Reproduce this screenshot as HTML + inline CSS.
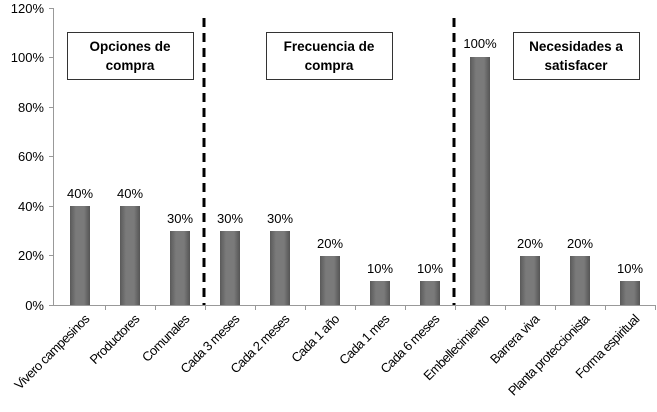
<!DOCTYPE html>
<html><head><meta charset="utf-8"><style>
body{margin:0;background:#fff;}
svg{display:block;font-family:"Liberation Sans",sans-serif;}
</style></head><body>
<svg width="657" height="412" viewBox="0 0 657 412" xmlns="http://www.w3.org/2000/svg">
<defs>
<linearGradient id="g" x1="0" x2="1" y1="0" y2="0">
<stop offset="0" stop-color="#5a5a5a"/><stop offset="0.3" stop-color="#7a7a7a"/><stop offset="0.7" stop-color="#7a7a7a"/><stop offset="1" stop-color="#555"/>
</linearGradient>
</defs>
<g stroke="#999" stroke-width="1">
<line x1="53.5" y1="8" x2="53.5" y2="305"/>
<line x1="53" y1="305.5" x2="655" y2="305.5"/>
<line x1="49" y1="8.5" x2="53" y2="8.5"/>
<line x1="49" y1="57.5" x2="53" y2="57.5"/>
<line x1="49" y1="107.5" x2="53" y2="107.5"/>
<line x1="49" y1="156.5" x2="53" y2="156.5"/>
<line x1="49" y1="206.5" x2="53" y2="206.5"/>
<line x1="49" y1="255.5" x2="53" y2="255.5"/>
<line x1="49" y1="305.5" x2="53" y2="305.5"/>
<line x1="105.5" y1="305" x2="105.5" y2="310"/><line x1="155.5" y1="305" x2="155.5" y2="310"/><line x1="205.5" y1="305" x2="205.5" y2="310"/><line x1="255.5" y1="305" x2="255.5" y2="310"/><line x1="305.5" y1="305" x2="305.5" y2="310"/><line x1="355.5" y1="305" x2="355.5" y2="310"/><line x1="405.5" y1="305" x2="405.5" y2="310"/><line x1="455.5" y1="305" x2="455.5" y2="310"/><line x1="505.5" y1="305" x2="505.5" y2="310"/><line x1="555.5" y1="305" x2="555.5" y2="310"/><line x1="605.5" y1="305" x2="605.5" y2="310"/><line x1="655.5" y1="305" x2="655.5" y2="310"/>
</g>
<g font-size="13" fill="#000" text-anchor="end">
<text x="44" y="13">120%</text><text x="44" y="62">100%</text><text x="44" y="112">80%</text><text x="44" y="161">60%</text><text x="44" y="211">40%</text><text x="44" y="260">20%</text><text x="44" y="310">0%</text>
</g>
<g fill="url(#g)">
<rect x="70" y="206" width="20" height="99"/>
<rect x="120" y="206" width="20" height="99"/>
<rect x="170" y="231" width="20" height="74"/>
<rect x="220" y="231" width="20" height="74"/>
<rect x="270" y="231" width="20" height="74"/>
<rect x="320" y="256" width="20" height="49"/>
<rect x="370" y="281" width="20" height="24"/>
<rect x="420" y="281" width="20" height="24"/>
<rect x="470" y="57" width="20" height="248"/>
<rect x="520" y="256" width="20" height="49"/>
<rect x="570" y="256" width="20" height="49"/>
<rect x="620" y="281" width="20" height="24"/>
</g>
<g font-size="13" text-anchor="middle">
<text x="80" y="198">40%</text><text x="130" y="198">40%</text><text x="180" y="223">30%</text><text x="230" y="223">30%</text><text x="280" y="223">30%</text><text x="330" y="248">20%</text><text x="380" y="273">10%</text><text x="430" y="273">10%</text><text x="480" y="48">100%</text><text x="530" y="248">20%</text><text x="580" y="248">20%</text><text x="630" y="273">10%</text>
</g>
<g stroke="#000" stroke-width="3" stroke-dasharray="9,6">
<line x1="204" y1="18" x2="204" y2="305"/>
<line x1="454" y1="18" x2="454" y2="305"/>
</g>
<g fill="#fff" stroke="#333" stroke-width="1">
<rect x="67.5" y="32.5" width="126" height="47"/>
<rect x="266.5" y="32.5" width="126" height="47"/>
<rect x="513.5" y="32.5" width="126" height="47"/>
</g>
<g font-size="13.5" font-weight="bold" text-anchor="middle">
<text x="130" y="51">Opciones de</text><text x="130" y="70">compra</text>
<text x="329" y="51">Frecuencia de</text><text x="329" y="70">compra</text>
<text x="576" y="51">Necesidades a</text><text x="576" y="70">satisfacer</text>
</g>
<g font-size="13" text-anchor="end" letter-spacing="-0.6">
<text transform="translate(90,320) rotate(-45)">Vivero campesinos</text>
<text transform="translate(140,320) rotate(-45)">Productores</text>
<text transform="translate(190,320) rotate(-45)">Comunales</text>
<text transform="translate(240,320) rotate(-45)">Cada 3 meses</text>
<text transform="translate(290,320) rotate(-45)">Cada 2 meses</text>
<text transform="translate(340,320) rotate(-45)">Cada 1 año</text>
<text transform="translate(390,320) rotate(-45)">Cada 1 mes</text>
<text transform="translate(440,320) rotate(-45)">Cada 6 meses</text>
<text transform="translate(490,320) rotate(-45)">Embellecimiento</text>
<text transform="translate(540,320) rotate(-45)">Barrera viva</text>
<text transform="translate(590,320) rotate(-45)">Planta proteccionista</text>
<text transform="translate(640,320) rotate(-45)">Forma espiritual</text>
</g>
</svg>
</body></html>
